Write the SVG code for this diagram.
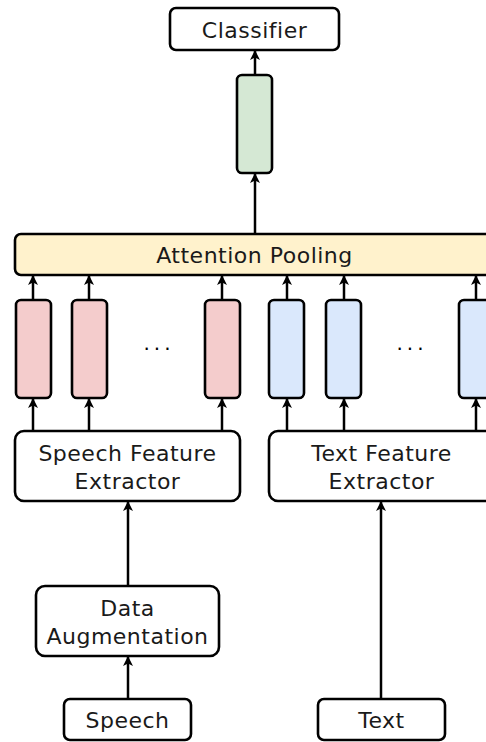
<svg xmlns="http://www.w3.org/2000/svg" width="486" height="742" viewBox="0 0 486 742">
  <style>
    .box { fill: #ffffff; stroke: #000000; stroke-width: 2.6; }
    .pool { fill: #fff2cc; stroke: #000000; stroke-width: 2.6; }
    .red { fill: #f4cccc; stroke: #000000; stroke-width: 2.6; }
    .blue { fill: #dae8fc; stroke: #000000; stroke-width: 2.6; }
    .green { fill: #d5e8d4; stroke: #000000; stroke-width: 2.6; }
    .lbl { font-family: "DejaVu Sans", "Noto Sans", sans-serif; font-size: 22px; letter-spacing: 0.5px; fill: #1a1a1a; text-anchor: middle; }
    .dots { font-family: "DejaVu Sans", sans-serif; font-size: 20px; fill: #000000; text-anchor: middle; letter-spacing: 4px; }
    .edge { stroke: #000000; stroke-width: 2.5; fill: none; marker-end: url(#arrow); }
  </style>
  <defs>
    <marker id="arrow" markerUnits="userSpaceOnUse" markerWidth="10" markerHeight="12" viewBox="0 0 10 12" refX="9" refY="6" orient="auto">
      <path d="M0,1 L10,6 L0,11 L2.5,6 Z" fill="#000000"/>
    </marker>
  </defs>

  <rect width="486" height="742" fill="#ffffff"/>

  <!-- connectors -->
  <g id="connectors">
    <line class="edge" x1="255" y1="75" x2="255" y2="51"/>
    <line class="edge" x1="255" y1="234" x2="255" y2="174"/>
    <line class="edge" x1="33" y1="300" x2="33" y2="276"/>
    <line class="edge" x1="89" y1="300" x2="89" y2="276"/>
    <line class="edge" x1="222" y1="300" x2="222" y2="276"/>
    <line class="edge" x1="287" y1="300" x2="287" y2="276"/>
    <line class="edge" x1="344" y1="300" x2="344" y2="276"/>
    <line class="edge" x1="476" y1="300" x2="476" y2="276"/>
    <line class="edge" x1="33" y1="431" x2="33" y2="399"/>
    <line class="edge" x1="89" y1="431" x2="89" y2="399"/>
    <line class="edge" x1="222" y1="431" x2="222" y2="399"/>
    <line class="edge" x1="287" y1="431" x2="287" y2="399"/>
    <line class="edge" x1="344" y1="431" x2="344" y2="399"/>
    <line class="edge" x1="476" y1="431" x2="476" y2="399"/>
    <line class="edge" x1="128" y1="586" x2="128" y2="502"/>
    <line class="edge" x1="128" y1="699" x2="128" y2="657"/>
    <line class="edge" x1="381" y1="699" x2="381" y2="502"/>
  </g>

  <g id="classifier">
    <rect class="box" x="170" y="8" width="169" height="42" rx="6"/>
    <text class="lbl" x="254.5" y="38">Classifier</text>
  </g>

  <g id="pooled-embedding">
    <rect class="green" x="237" y="75" width="35" height="98" rx="5"/>
  </g>

  <g id="attention-pooling">
    <rect class="pool" x="15" y="234" width="510" height="41" rx="6"/>
    <text class="lbl" x="254.5" y="263">Attention Pooling</text>
  </g>

  <g id="speech-embeddings">
    <rect class="red" x="16" y="300" width="35" height="98" rx="5"/>
    <rect class="red" x="72" y="300" width="35" height="98" rx="5"/>
    <text class="dots" x="159" y="356">···</text>
    <rect class="red" x="205" y="300" width="35" height="98" rx="5"/>
  </g>

  <g id="text-embeddings">
    <rect class="blue" x="269" y="300" width="35" height="98" rx="5"/>
    <rect class="blue" x="326" y="300" width="35" height="98" rx="5"/>
    <text class="dots" x="412" y="356">···</text>
    <rect class="blue" x="459" y="300" width="35" height="98" rx="5"/>
  </g>

  <g id="speech-feature-extractor">
    <rect class="box" x="15" y="431" width="225" height="70" rx="9"/>
    <text class="lbl" x="127.5" y="461">Speech Feature</text>
    <text class="lbl" x="127.5" y="489">Extractor</text>
  </g>

  <g id="text-feature-extractor">
    <rect class="box" x="269" y="431" width="225" height="70" rx="9"/>
    <text class="lbl" x="381.5" y="461">Text Feature</text>
    <text class="lbl" x="381.5" y="489">Extractor</text>
  </g>

  <g id="data-augmentation">
    <rect class="box" x="36" y="586" width="183" height="70" rx="9"/>
    <text class="lbl" x="127.5" y="616">Data</text>
    <text class="lbl" x="127.5" y="644">Augmentation</text>
  </g>

  <g id="speech">
    <rect class="box" x="64" y="699" width="127" height="41" rx="6"/>
    <text class="lbl" x="127.5" y="728">Speech</text>
  </g>

  <g id="text">
    <rect class="box" x="318" y="699" width="127" height="41" rx="6"/>
    <text class="lbl" x="381.5" y="728">Text</text>
  </g>
</svg>
